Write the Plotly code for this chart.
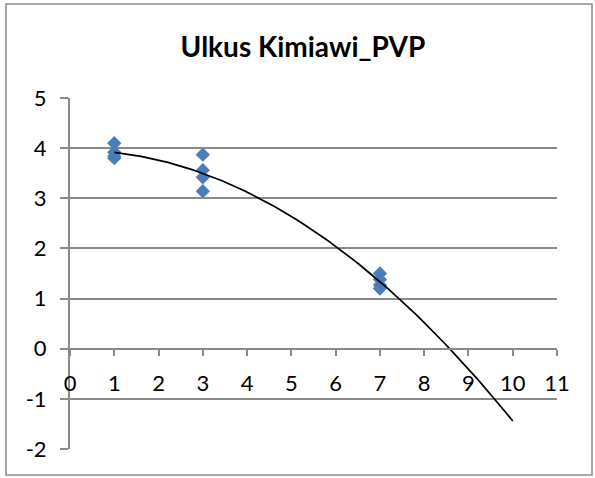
import numpy as np
import plotly.graph_objects as go

# Data
x_vals = [1, 1, 1, 1, 3, 3, 3, 3, 7, 7, 7, 7]
y_vals = [4.1, 3.92, 3.84, 3.8, 3.87, 3.56, 3.42, 3.14, 1.5, 1.38, 1.27, 1.2]
x_ticks = list(range(0, 12))
y_ticks = list(range(-2, 6))
title_text = "Ulkus Kimiawi_PVP"

# Polynomial (order 2) trendline fitted to the data, drawn from x=1 to x=10
coef = np.polyfit(x_vals, y_vals, 2)
trend_x = np.linspace(1, 10, 120)
trend_y = np.polyval(coef, trend_x)

FONT = "Lato"
GRID = "#8a8a8a"

fig = go.Figure()
fig.add_trace(go.Scatter(
    x=x_vals, y=y_vals, mode="markers",
    marker=dict(symbol="diamond", size=11, color="#4A7EBB",
                line=dict(width=0)),
    showlegend=False, hoverinfo="skip"))
fig.add_trace(go.Scatter(
    x=trend_x, y=trend_y, mode="lines",
    line=dict(color="black", width=1.7),
    showlegend=False, hoverinfo="skip"))

L, R, T, B = 70, 38, 98, 29
W, H = 595, 478
pw, ph = W - L - R, H - T - B

def px_to_paper_x(px):
    return (px - L) / pw

def px_to_paper_y(py):
    return (H - B - py) / ph

fig.update_layout(
    width=W, height=H,
    margin=dict(l=L, r=R, t=T, b=B),
    paper_bgcolor="white", plot_bgcolor="white",
    font=dict(family=FONT, size=22, color="black"),
    title=dict(text="<b>" + title_text + "</b>",
               x=px_to_paper_x(303), xref="paper", xanchor="center",
               y=1 - 47 / H, yanchor="middle",
               font=dict(family=FONT, size=28, color="black")),
    xaxis=dict(range=[0, 11], tickvals=x_ticks, ticktext=[str(v) for v in x_ticks],
               showgrid=False, zeroline=False,
               showline=True, linecolor=GRID, linewidth=2,
               ticks="outside", ticklen=6, tickcolor=GRID, tickwidth=2,
               anchor="free", position=2 / 7,
               ticklabelstandoff=9,
               tickfont=dict(family=FONT, size=22, color="black")),
    yaxis=dict(range=[-2, 5], tickvals=y_ticks, ticktext=[str(v) for v in y_ticks],
               showgrid=True, gridcolor=GRID, gridwidth=2, zeroline=False,
               showline=True, linecolor=GRID, linewidth=2,
               ticks="outside", ticklen=8, tickcolor=GRID, tickwidth=2,
               ticklabelstandoff=9,
               tickfont=dict(family=FONT, size=22, color="black")),
    shapes=[dict(type="rect", xref="paper", yref="paper",
                 x0=px_to_paper_x(6), x1=px_to_paper_x(592),
                 y0=px_to_paper_y(475), y1=px_to_paper_y(4),
                 line=dict(color="#8c8c8c", width=1.5), fillcolor="rgba(0,0,0,0)",
                 layer="below")],
)

fig.write_html("out.html", config={"displayModeBar": False},
               post_script="document.body.style.margin='0';document.body.style.overflow='hidden';")
